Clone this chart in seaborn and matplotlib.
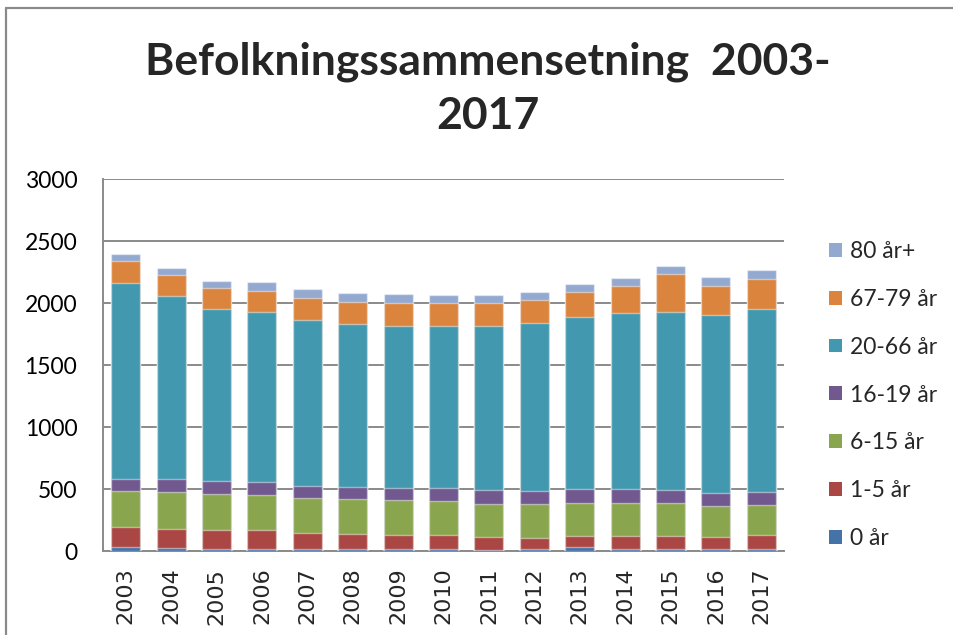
import matplotlib
matplotlib.use("Agg")
import matplotlib.pyplot as plt
import seaborn as sns
import pandas as pd
from matplotlib.patches import Patch
from matplotlib.lines import Line2D

# ---- data ----
years = ['2003', '2004', '2005', '2006', '2007', '2008', '2009', '2010',
         '2011', '2012', '2013', '2014', '2015', '2016', '2017']
groups = ['0 år', '1-5 år', '6-15 år', '16-19 år', '20-66 år', '67-79 år', '80 år+']

age_0 = [32, 27, 19, 16, 13, 13, 13, 13, 8, 13, 30, 13, 13, 13, 16]
age_1_5 = [158, 153, 153, 156, 135, 127, 118, 113, 107, 94, 88, 110, 108, 102, 115]
age_6_15 = [293, 292, 287, 281, 279, 276, 282, 274, 261, 274, 271, 261, 265, 245, 239]
age_16_19 = [99, 105, 107, 100, 99, 102, 97, 112, 118, 102, 107, 112, 102, 104, 108]
age_20_66 = [1578, 1478, 1385, 1376, 1339, 1315, 1306, 1302, 1320, 1355, 1390, 1422, 1441, 1438, 1470]
age_67_79 = [177, 172, 169, 169, 177, 177, 188, 190, 188, 185, 201, 218, 303, 234, 244]
age_80 = [62, 59, 61, 70, 67, 72, 65, 62, 64, 62, 70, 67, 70, 70, 73]

colors = ['#4572A7', '#AA4643', '#89A54E', '#71588F', '#4198AF', '#DB843D', '#93A9CF']

df = pd.DataFrame({'year': years, '0 år': age_0, '1-5 år': age_1_5, '6-15 år': age_6_15,
                   '16-19 år': age_16_19, '20-66 år': age_20_66, '67-79 år': age_67_79,
                   '80 år+': age_80})
cum = df[groups].cumsum(axis=1)

sns.set_style('white')
plt.rcParams['font.family'] = ['Lato', 'DejaVu Sans']

W, H = 954, 635
fig = plt.figure(figsize=(W / 100, H / 100), dpi=100)
ax = fig.add_axes([103 / W, 1 - 551 / H, (784 - 103) / W, (551 - 179) / H])

# stacked bars: draw the running totals from the top group down
for g, c in reversed(list(zip(groups, colors))):
    sns.barplot(x=df['year'], y=cum[g], color=c, width=0.64, saturation=1,
                edgecolor=(1, 1, 1, 0.45), linewidth=1, ax=ax, zorder=3)

grid_col = '#8a8a8a'
ax.set_xlim(-0.5, 14.5)
ax.set_ylim(0, 3000)
ax.set_yticks(range(0, 3001, 500))
ax.yaxis.grid(True, color=grid_col, linewidth=1.4)
ax.set_axisbelow(True)
ax.set_xlabel('')
ax.set_ylabel('')
for s in ['top', 'right']:
    ax.spines[s].set_visible(False)
for s in ['left', 'bottom']:
    ax.spines[s].set_color(grid_col)
    ax.spines[s].set_linewidth(1.4)

ax.tick_params(axis='y', length=0, pad=18.5, labelsize=16.5, labelcolor='black')
ax.tick_params(axis='x', length=0, pad=12, labelsize=16)
for lab in ax.get_xticklabels():
    lab.set_rotation(90)
    lab.set_family('DejaVu Sans')

# legend (top group first)
handles = [Patch(facecolor=c, edgecolor='none') for c in reversed(colors)]
fig.legend(handles, list(reversed(groups)), loc='center left',
           bbox_to_anchor=(829 / W, 1 - 395 / H), frameon=False, fontsize=16.5,
           handlelength=0.55, handleheight=0.55, handletextpad=0.35,
           labelspacing=1.17, borderpad=0, borderaxespad=0)

fig.text(487.5 / W, 1 - 41 / H, 'Befolkningssammensetning  2003-\n2017',
         ha='center', va='top', fontsize=32, fontweight='bold', linespacing=1.45)

# outer chart frame (left and top edges)
fig.add_artist(Line2D([6.5 / W, 6.5 / W], [0, 1 - 7.5 / H], transform=fig.transFigure,
                      color=grid_col, linewidth=1.6))
fig.add_artist(Line2D([6.5 / W, 1], [1 - 7.5 / H, 1 - 7.5 / H], transform=fig.transFigure,
                      color=grid_col, linewidth=1.6))

fig.savefig('out.png', dpi=100)
